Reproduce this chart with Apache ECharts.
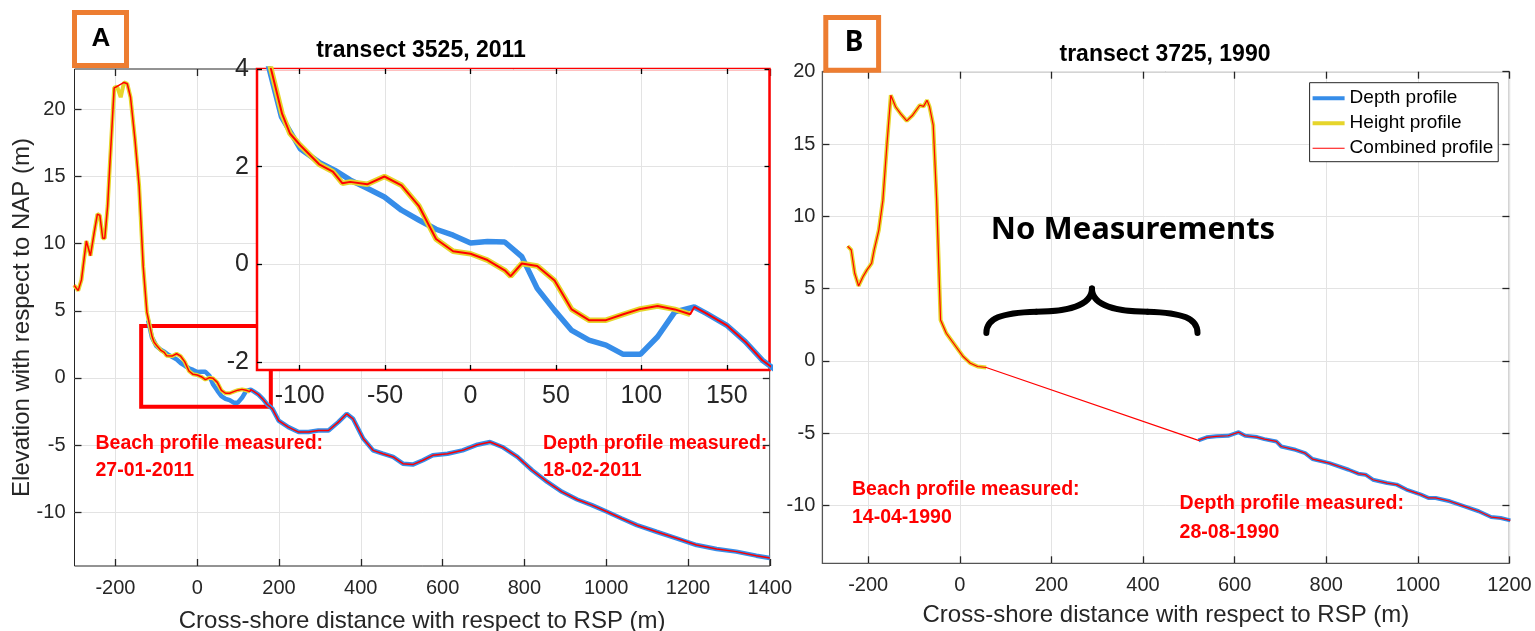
<!DOCTYPE html>
<html><head><meta charset="utf-8">
<script src="https://cdn.jsdelivr.net/npm/echarts@6/dist/echarts.min.js"></script>
<style>html,body{margin:0;padding:0;background:#fff}#c{width:1535px;height:631px}</style>
</head><body><div id="c"></div>
<script>
// ---------- DATA ----------
// Panel A: transect 3525, 2011
const heightA = [[-301,6.9],[-291,6.5],[-283,7.3],[-271,10.2],[-261,9.1],[-252,10.8],[-244,12.2],[-238,12.1],[-231,10.4],[-226,10.4],[-219,12.8],[-213,16.2],[-203,21.6],[-196,21.7],[-187,20.9],[-179,22.0],[-171,21.9],[-163,20.9],[-152,17.7],[-142,14.3],[-132,8.3],[-123,4.9],[-116.8,4.0],[-110.3,3.08],[-105.7,2.68],[-99.7,2.44],[-88.6,2.05],[-80.6,1.90],[-75,1.66],[-70.5,1.69],[-60.5,1.64],[-50.4,1.80],[-40.4,1.62],[-30.3,1.20],[-20.2,0.52],[-10.2,0.27],[0,0.22],[9.9,0.09],[20,-0.12],[23.5,-0.24],[30,0.02],[39,-0.03],[49.2,-0.33],[59.2,-0.92],[69.3,-1.14],[79.3,-1.14],[89.4,-1.02],[99.4,-0.91],[109.5,-0.85],[119.6,-0.92],[128.6,-1.02]];
const depthA = [[-120,4.3],[-110.7,3.02],[-99.7,2.37],[-88.6,2.09],[-79.6,1.93],[-70.5,1.73],[-60.5,1.56],[-50.4,1.38],[-40.4,1.11],[-30.3,0.91],[-20.2,0.72],[-10.2,0.60],[0,0.44],[9.9,0.47],[20,0.46],[30,0.16],[39,-0.49],[49.2,-0.94],[59.2,-1.35],[69.3,-1.55],[79.3,-1.65],[89.4,-1.84],[99.4,-1.84],[109.5,-1.48],[119.6,-0.97],[131,-0.87],[138,-1.00],[149.8,-1.24],[160.8,-1.58],[170.8,-1.96],[184,-2.3],[199,-3.17],[223,-3.66],[248,-4.03],[272,-4.03],[296,-3.91],[321,-3.91],[345,-3.29],[365.5,-2.67],[381,-3.04],[406,-4.52],[430,-5.39],[454,-5.64],[479,-5.88],[503,-6.38],[527,-6.45],[552,-6.13],[576,-5.76],[612,-5.64],[649,-5.39],[685,-4.97],[716,-4.77],[746,-5.14],[783,-5.88],[819,-6.87],[856,-7.74],[892,-8.48],[929,-9.05],[965,-9.47],[1002,-9.96],[1038,-10.46],[1075,-10.96],[1123,-11.45],[1172,-11.94],[1221,-12.44],[1270,-12.73],[1318,-12.93],[1367,-13.23],[1400,-13.4]];
// Panel B: transect 3725, 1990
const heightB = [[-245,7.94],[-237,7.67],[-229.5,6.06],[-221,5.18],[-211.5,5.82],[-203,6.28],[-192.6,6.75],[-187,7.67],[-176.8,9.05],[-168,11.1],[-159,15.0],[-150.6,18.37],[-140,17.56],[-129.4,17.1],[-115.8,16.6],[-103,16.99],[-87.4,17.68],[-79,17.6],[-71.6,18.02],[-66.3,17.6],[-58,16.3],[-50.5,11.1],[-42,2.83],[-29.5,1.91],[-13.7,1.22],[7.3,0.30],[23,-0.16],[39,-0.39],[57.7,-0.46]];
const depthB = [[521,-5.5],[539,-5.29],[560,-5.22],[586,-5.18],[609,-4.93],[623,-5.18],[649,-5.27],[665,-5.41],[691,-5.57],[702,-5.92],[733,-6.15],[754,-6.38],[770,-6.79],[807,-7.07],[849,-7.53],[870,-7.8],[886,-7.87],[902,-8.22],[933,-8.45],[954,-8.56],[975,-8.9],[1007,-9.25],[1023,-9.48],[1039,-9.48],[1070,-9.71],[1102,-10.06],[1133,-10.4],[1160,-10.8],[1181,-10.87],[1202,-11.03]];

// combined profiles: beach part followed by depth part
const combinedA = heightA.filter(p => p[0] !== -187).concat(depthA.filter(p => p[0] > heightA[heightA.length - 1][0]));
const combinedB = heightB.concat(depthB);

// axis ranges and ticks
const rangeAX = [-300, 1400], rangeAY = [-14, 23];
const rangeInsetX = [-125, 175], rangeInsetY = [-2.16, 4];
const rangeBX = [-300, 1200], rangeBY = [-14, 20];
const ticksAX = [-200, 0, 200, 400, 600, 800, 1000, 1200, 1400];
const ticksAY = [-10, -5, 0, 5, 10, 15, 20];
const ticksInsetX = [-100, -50, 0, 50, 100, 150];
const ticksInsetY = [-2, 0, 2, 4];
const ticksBX = [-200, 0, 200, 400, 600, 800, 1000, 1200];
const ticksBY = [-10, -5, 0, 5, 10, 15, 20];
// zoom rectangle in panel A and brace span in panel B (data coords)
const zoomBoxA = [[-137, 3.86], [180, -2.15]];
const braceB = { x: [58, 519], yEnd: 1.93, yTip: 5.0 };

const seriesNames = ['Depth profile', 'Height profile', 'Combined profile'];
const titles = ['transect 3525, 2011', 'transect 3725, 1990'];
const xTitle = 'Cross-shore distance with respect to RSP (m)';
const yTitle = 'Elevation with respect to NAP (m)';

// ---------- STYLE ----------
const FF = '"Liberation Sans", Arial, Helvetica, sans-serif';
const BLUE = '#368DE9', YELLOW = '#E6D52B', RED = '#FF0000';
const GRIDC = '#E3E3E3', AXC = '#262626';

function axisPair(dim, gridIndex, range, ticks, cfg) {
  const base = {
    type: 'value', gridIndex, min: range[0], max: range[1], z: cfg.z || 0,
    axisLine: { show: false, onZero: false },
    axisTick: { show: true, inside: true, length: cfg.tickLen || 7, customValues: ticks, lineStyle: { color: cfg.tickColor || AXC, width: 1.3 } },
    nameMoveOverlap: false
  };
  const primary = Object.assign({}, base, {
    position: dim === 'x' ? 'bottom' : 'left',
    axisLabel: { show: true, customValues: ticks, fontSize: cfg.fs, color: AXC, fontFamily: FF, margin: cfg.margin, lineHeight: cfg.fs, formatter: v => String(v) },
    splitLine: { show: true, lineStyle: { color: GRIDC, width: 1 } }
  });
  if (cfg.name) {
    primary.name = cfg.name; primary.nameLocation = 'middle'; primary.nameGap = cfg.nameGap;
    primary.nameTextStyle = { fontSize: cfg.nameFs, color: AXC, fontFamily: FF };
  }
  const mirror = Object.assign({}, base, {
    position: dim === 'x' ? 'top' : 'right',
    axisLabel: { show: false }, splitLine: { show: false }
  });
  return [primary, mirror];
}

const xA = axisPair('x', 0, rangeAX, ticksAX, { fs: 20, margin: 12, name: xTitle, nameGap: 43, nameFs: 24 });
const yA = axisPair('y', 0, rangeAY, ticksAY, { fs: 20, margin: 9, name: yTitle, nameGap: 40, nameFs: 24 });
const xI = axisPair('x', 1, rangeInsetX, ticksInsetX, { fs: 25, margin: 14, z: 6, tickColor: '#000', tickLen: 5 });
const yI = axisPair('y', 1, rangeInsetY, ticksInsetY, { fs: 25, margin: 8, z: 6, tickColor: '#000', tickLen: 5 });
const xB = axisPair('x', 2, rangeBX, ticksBX, { fs: 20, margin: 12, name: xTitle, nameGap: 40, nameFs: 24 });
const yB = axisPair('y', 2, rangeBY, ticksBY, { fs: 20, margin: 7 });

function line(name, data, xi, color, width, z, extra) {
  return Object.assign({
    type: 'line', name, data, xAxisIndex: xi, yAxisIndex: xi,
    showSymbol: false, symbol: 'none', clip: true, z, animation: false,
    color, itemStyle: { color }, lineStyle: { color, width }, emphasis: { disabled: true }
  }, extra || {});
}

const chart = echarts.init(document.getElementById('c'), null, { renderer: 'canvas' });
chart.setOption({
  animation: false,
  backgroundColor: '#fff',
  grid: [
    { left: 74.5, top: 69, width: 695.3, height: 497, show: true, borderColor: AXC, borderWidth: 1, backgroundColor: '#fff', outerBoundsMode: 'none', containLabel: false },
    { left: 257, top: 69, width: 512.5, height: 301, show: true, borderColor: RED, borderWidth: 2.5, backgroundColor: '#fff', z: 5, outerBoundsMode: 'none', containLabel: false },
    { left: 822.4, top: 71.7, width: 687, height: 491.6, show: true, borderColor: '#555', borderWidth: 1.3, backgroundColor: '#fff', outerBoundsMode: 'none', containLabel: false }
  ],
  xAxis: [xA[0], xA[1], xI[0], xI[1], xB[0], xB[1]],
  yAxis: [yA[0], yA[1], yI[0], yI[1], yB[0], yB[1]],
  legend: {
    orient: 'vertical', left: 1309.6, top: 82.7,
    data: [
      { name: seriesNames[0], icon: 'path://M0,0M0,12M0,4H32V8H0Z' },
      { name: seriesNames[1], icon: 'path://M0,0M0,12M0,4H32V8H0Z' },
      { name: seriesNames[2], icon: 'path://M0,0M0,12M0,5.5H32V6.5H0Z' }
    ],
    itemWidth: 32, itemHeight: 12, itemGap: 6,
    padding: [6, 5, 4, 3], borderColor: AXC, borderWidth: 1, backgroundColor: '#fff',
    textStyle: { fontSize: 19, color: '#000', fontFamily: FF, lineHeight: 19 },
    selectedMode: false
  },
  series: [
    line(seriesNames[0], depthA, 0, BLUE, 4.5, 2),
    line(seriesNames[1], heightA, 0, YELLOW, 4, 3),
    line(seriesNames[2], combinedA, 0, RED, 1.5, 4, {
      markArea: { silent: true, itemStyle: { color: 'rgba(0,0,0,0)', borderColor: RED, borderWidth: 4 },
        data: [[{ coord: zoomBoxA[0] }, { coord: zoomBoxA[1] }]] }
    }),
    line(seriesNames[0], depthA, 2, BLUE, 5.5, 7),
    line(seriesNames[1], heightA, 2, YELLOW, 5.5, 8),
    line(seriesNames[2], combinedA, 2, RED, 2, 9),
    line(seriesNames[0], depthB, 4, BLUE, 4, 2),
    line(seriesNames[1], heightB, 4, YELLOW, 4, 3),
    line(seriesNames[2], combinedB, 4, RED, 1.2, 4)
  ]
});

// ---------- annotations ----------
const e1 = chart.convertToPixel({ xAxisIndex: 4, yAxisIndex: 4 }, [braceB.x[0], braceB.yEnd]);
const e2 = chart.convertToPixel({ xAxisIndex: 4, yAxisIndex: 4 }, [braceB.x[1], braceB.yEnd]);
const tp = chart.convertToPixel({ xAxisIndex: 4, yAxisIndex: 4 }, [(braceB.x[0] + braceB.x[1]) / 2, braceB.yTip]);
const L = e1[0], R = e2[0], by = e1[1], mx = tp[0], ty = tp[1], dy = by - ty;
const sy = by - 0.48 * dy, ay = by - 0.32 * dy, ny = by - 0.61 * dy;
function bez(x1, y1, c1x, c1y, c2x, c2y, x2, y2) {
  return { type: 'bezierCurve', z: 20, silent: true,
    shape: { x1, y1, cpx1: c1x, cpy1: c1y, cpx2: c2x, cpy2: c2y, x2, y2 },
    style: { fill: null, stroke: '#000', lineWidth: 6, lineCap: 'round' } };
}
const braceParts = [
  bez(L, by, L, ay, L + 14, sy + 1, L + 50, sy),
  bez(L + 50, sy, mx - 25, sy, mx, ny, mx, ty),
  bez(mx, ty, mx, ny, mx + 25, sy, R - 50, sy),
  bez(R - 50, sy, R - 14, sy + 1, R, ay, R, by)
];

function txt(x, y, text, font, fill, align) {
  return { type: 'text', x, y, z: 20, silent: true,
    style: { text, font, fill, align: align || 'left', verticalAlign: 'middle' } };
}
const redFont = 'bold 19.5px ' + FF;
chart.setOption({
  graphic: [
    txt(421, 51, titles[0], 'bold 23px ' + FF, '#000', 'center'),
    txt(1165, 55, titles[1], 'bold 23px ' + FF, '#000', 'center'),
    { type: 'rect', z: 20, silent: true, shape: { x: 74.5, y: 12.5, width: 52, height: 53 }, style: { fill: '#fff', stroke: '#ED7D31', lineWidth: 5 } },
    txt(101, 39, 'A', 'bold 26px ' + FF, '#000', 'center'),
    { type: 'rect', z: 20, silent: true, shape: { x: 825.8, y: 17.5, width: 52.8, height: 52.7 }, style: { fill: '#fff', stroke: '#ED7D31', lineWidth: 5 } },
    txt(854, 43, 'B', 'bold 28px "Noto Sans", ' + FF, '#000', 'center'),
    txt(95.5, 444, 'Beach profile measured:', redFont, RED),
    txt(95.5, 471, '27-01-2011', redFont, RED),
    txt(543, 444, 'Depth profile measured:', redFont, RED),
    txt(543, 471, '18-02-2011', redFont, RED),
    txt(852, 490, 'Beach profile measured:', redFont, RED),
    txt(852, 518, '14-04-1990', redFont, RED),
    txt(1179.6, 504, 'Depth profile measured:', redFont, RED),
    txt(1179.6, 533, '28-08-1990', redFont, RED),
    txt(1133, 230, 'No Measurements', 'bold 31px "Noto Sans", ' + FF, '#000', 'center')
  ].concat(braceParts)
});
</script>
</body></html>
